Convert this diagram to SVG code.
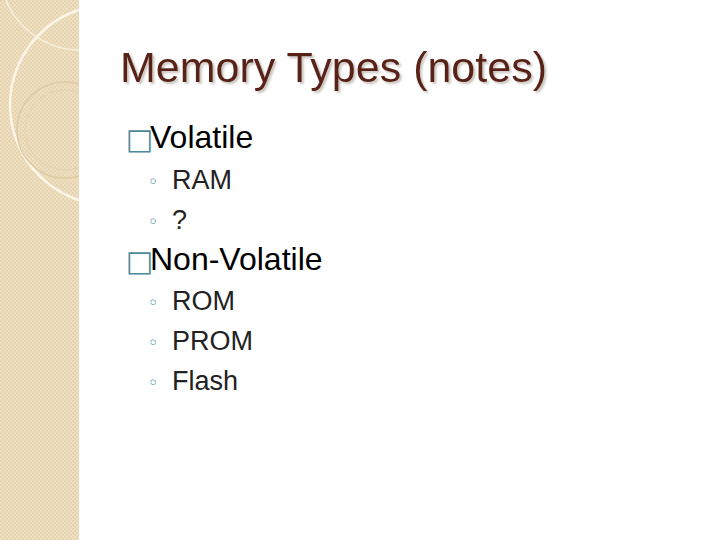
<svg xmlns="http://www.w3.org/2000/svg" width="720" height="540" viewBox="0 0 720 540">
<defs>
<pattern id="p" width="4" height="4" patternUnits="userSpaceOnUse"><rect width="4" height="4" fill="#efe0c2"/><rect width="2" height="2" fill="#e6d4b0"/><rect x="2" y="2" width="2" height="2" fill="#e6d4b0"/></pattern>
<clipPath id="c"><rect width="79" height="540"/></clipPath>
<filter id="sh" x="-5%" y="-20%" width="110%" height="140%"><feDropShadow dx="2" dy="2" stdDeviation="0.8" flood-color="#b0a8a0" flood-opacity="0.7"/></filter>
</defs>
<style>
.t{font-family:"Liberation Sans",Arial,sans-serif;fill:#000}
.s{font-family:"Liberation Sans",Arial,sans-serif;fill:#222;font-size:27px}
.b{font-family:"DejaVu Sans",sans-serif;fill:#4a8a9a;font-size:29px}
.o{font-family:"DejaVu Sans",sans-serif;fill:#4a8a9a;font-size:18px}
</style>
<rect width="720" height="540" fill="#fff"/>
<g id="strip">
<rect width="79" height="540" fill="url(#p)"/>
<g clip-path="url(#c)" fill="none">
<circle cx="110" cy="105" r="100" stroke="#fbf6ea" stroke-width="2.5"/>
<circle cx="80" cy="-30" r="80" stroke="#f7efdf" stroke-width="1.5"/>
<circle cx="65" cy="130" r="48" stroke="#dccaa4" stroke-width="1.5"/>
<circle cx="65" cy="130" r="40" stroke="#e3d3b3" stroke-width="1"/>
</g>
</g>
<g id="title">
<text x="120" y="82" class="t" font-size="43" style="fill:#5a2418" filter="url(#sh)">Memory Types (notes)</text>
</g>
<g id="body">
<text x="126" y="149" class="b">□</text><text x="150" y="148" class="t" font-size="32">Volatile</text>
<text x="148" y="188" class="o">◦</text><text x="172" y="189" class="s">RAM</text>
<text x="148" y="228" class="o">◦</text><text x="172" y="229" class="s">?</text>
<text x="126" y="271" class="b">□</text><text x="150" y="270" class="t" font-size="32">Non-Volatile</text>
<text x="148" y="309" class="o">◦</text><text x="172" y="310" class="s">ROM</text>
<text x="148" y="349" class="o">◦</text><text x="172" y="350" class="s">PROM</text>
<text x="148" y="389" class="o">◦</text><text x="172" y="390" class="s">Flash</text>
</g>
</svg>
